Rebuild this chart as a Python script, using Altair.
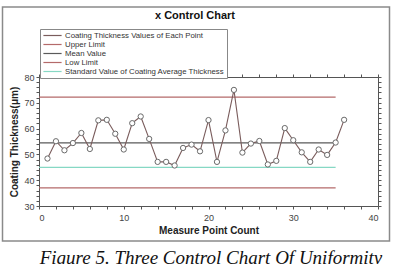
import altair as alt
import pandas as pd

# ---- data ----
point_x = list(range(1, 37))
point_y = [48.4, 55.1, 51.6, 54.4, 58.3, 52.1, 63.2, 63.4, 58.0, 51.9, 62.1, 64.7,
           56.0, 47.1, 47.1, 45.7, 52.5, 53.8, 51.2, 63.3, 47.1, 59.3, 75.0, 50.7,
           54.2, 55.2, 46.1, 47.5, 60.2, 55.5, 50.8, 47.1, 51.9, 49.8, 54.6, 63.4]

series_names = ["Coating Thickness Values of Each Point", "Upper Limit", "Mean Value",
                "Low Limit", "Standard Value of Coating Average Thickness"]
series_colors = ["#7a5c5c", "#b46a6a", "#5a5a5a", "#b46a6a", "#86d8c4"]

ref_names = ["Upper Limit", "Mean Value", "Low Limit",
             "Standard Value of Coating Average Thickness"]
ref_values = [72.2, 54.5, 37.0, 45.0]
ref_start = [0, 0, 0, 0]
ref_end = [35, 35, 35, 35]

x_ticks = list(range(0, 41, 2))
y_ticks = list(range(30, 81, 2))

title_text = "x Control Chart"
x_title = "Measure Point Count"
y_title = "Coating Thickness(μm)"
caption_text = "Figure 5. Three Control Chart Of Uniformity"

pts = pd.DataFrame({"x": point_x, "y": point_y, "series": series_names[0]})
refs = pd.DataFrame({"series": ref_names, "y": ref_values, "x0": ref_start, "x1": ref_end})

W, H = 339, 129
FONT = "Liberation Sans"

line_path = "M-2.6,0L2.6,0"

color = alt.Color("series:N",
                  scale=alt.Scale(domain=series_names, range=series_colors),
                  legend=alt.Legend(title=None, orient="none", legendX=1, legendY=-48,
                                    symbolType=line_path, symbolSize=49, symbolStrokeWidth=1.2,
                                    symbolOffset=6,
                                    labelFontSize=7.8, labelFont=FONT, labelLimit=300,
                                    labelColor="#333",
                                    rowPadding=0, padding=2, strokeColor="#888888",
                                    fillColor="white", labelOffset=8))

xscale = alt.Scale(domain=[0, 40], nice=False)
yscale = alt.Scale(domain=[30, 80], nice=False)

xaxis = alt.Axis(values=x_ticks, labelExpr="datum.value % 10 == 0 ? datum.label : ''",
                 grid=False, tickSize=3, labelFontSize=9, labelFont=FONT, labelColor="#444",
                 title=x_title, titleFontSize=10, titleFont=FONT, titleFontWeight="bold",
                 titleColor="#222", labelPadding=4, titlePadding=3, domainColor="#555",
                 tickColor="#555", orient="bottom")
yaxis = alt.Axis(values=y_ticks, labelExpr="datum.value % 10 == 0 ? datum.label : ''",
                 grid=False, tickSize=3, labelFontSize=9, labelFont=FONT, labelColor="#444",
                 title=y_title, titleFontSize=10, titleFont=FONT, titleFontWeight="bold",
                 titleColor="#222", labelPadding=2, titlePadding=4, domainColor="#555",
                 tickColor="#555", orient="left")
xaxis_top = alt.Axis(values=x_ticks, labels=False, title=None, grid=False, orient="top",
                     tickSize=3, domainColor="#555", tickColor="#555")
yaxis_right = alt.Axis(values=y_ticks, labels=False, title=None, grid=False, orient="right",
                       tickSize=3, domainColor="#555", tickColor="#555")

line = alt.Chart(pts).mark_line(strokeWidth=1.1).encode(
    x=alt.X("x:Q", scale=xscale, axis=xaxis),
    y=alt.Y("y:Q", scale=yscale, axis=yaxis),
    color=color,
)
points = alt.Chart(pts).mark_point(shape="circle", size=28, filled=False, strokeWidth=1,
                                   color="#6a6a6a", fill="white", fillOpacity=1).encode(
    x=alt.X("x:Q", scale=xscale, axis=None),
    y=alt.Y("y:Q", scale=yscale, axis=None),
)
rules = alt.Chart(refs).mark_rule(strokeWidth=1.2).encode(
    x=alt.X("x0:Q", scale=xscale, axis=xaxis_top),
    x2="x1:Q",
    y=alt.Y("y:Q", scale=yscale, axis=yaxis_right),
    color=color,
)

frame = alt.Chart(pts).mark_rect(fill=None, stroke="#8a8a8a", strokeWidth=1.5).encode(
    x=alt.value(-36.5), x2=alt.value(350.5), y=alt.value(-70), y2=alt.value(164)
).transform_filter("datum.x == 1")

title = alt.Chart(pts).mark_text(text=title_text, font=FONT, fontSize=11, fontWeight="bold",
                                 color="#111").encode(
    x=alt.value(156), y=alt.value(-61)).transform_filter("datum.x == 1")

caption = alt.Chart(pts).mark_text(text=caption_text, font="Liberation Serif", fontSize=19,
                                   fontStyle="italic", baseline="top", color="#111").encode(
    x=alt.value(172), y=alt.value(172)).transform_filter("datum.x == 1")

chart = alt.layer(rules, line, points, frame, title, caption).resolve_scale(
    x="independent", y="independent"
).resolve_axis(
    x="independent", y="independent"
).properties(
    width=W, height=H,
    padding={"left": 39, "top": 77, "right": 16, "bottom": 58},
    autosize=alt.AutoSizeParams(type="none"),
).configure_view(stroke="#555", strokeWidth=1).configure(background="white")

chart.save("out.html", embed_options={"renderer": "svg", "actions": False})
